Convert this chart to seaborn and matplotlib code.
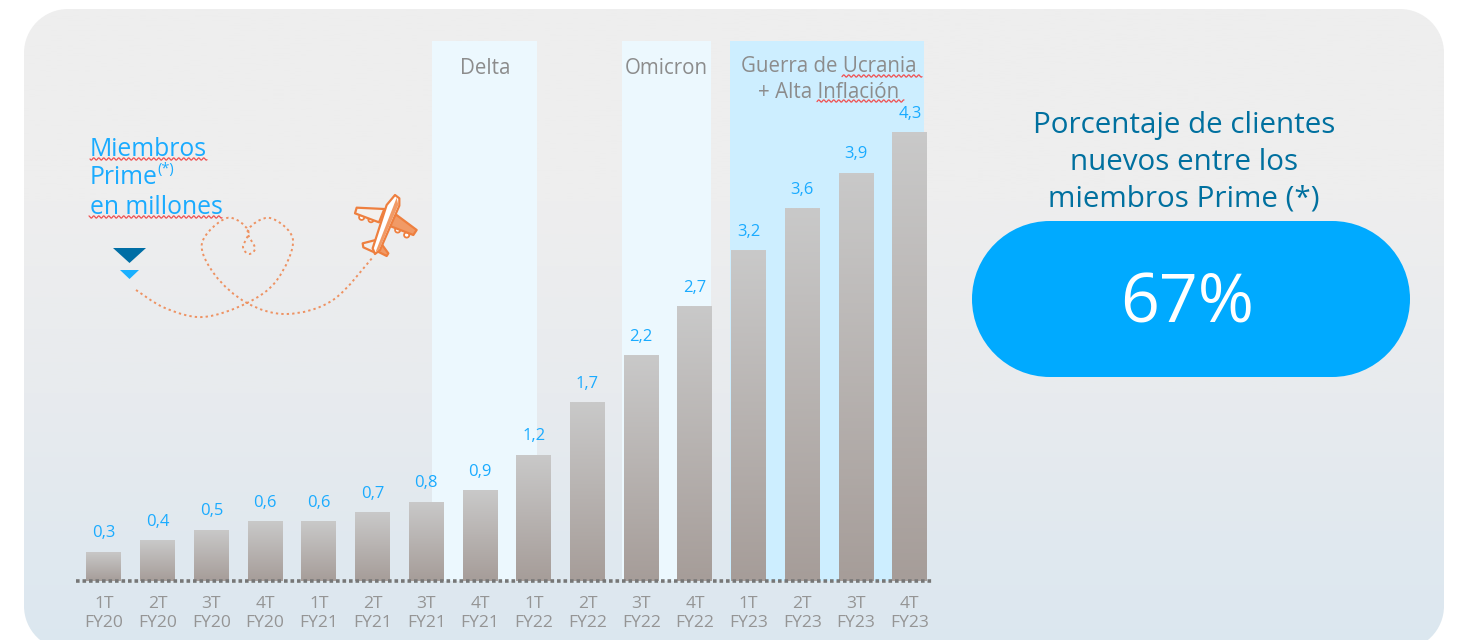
import numpy as np
import pandas as pd
import matplotlib
matplotlib.use("Agg")
import matplotlib.pyplot as plt
from matplotlib.patches import Polygon, Rectangle, PathPatch
from matplotlib.path import Path
from matplotlib.colors import LinearSegmentedColormap
import seaborn as sns

quarters = ["1T", "2T", "3T", "4T"] * 4
years = ["FY20"] * 4 + ["FY21"] * 4 + ["FY22"] * 4 + ["FY23"] * 4
members = [0.28, 0.39, 0.49, 0.57, 0.57, 0.66, 0.76, 0.87,
           1.21, 1.71, 2.16, 2.63, 3.17, 3.57, 3.91, 4.30]
member_labels = ["0,3", "0,4", "0,5", "0,6", "0,6", "0,7", "0,8", "0,9",
                 "1,2", "1,7", "2,2", "2,7", "3,2", "3,6", "3,9", "4,3"]

W, H = 1459, 640
FONT = "Open Sans"

sns.set_theme(style="white")
plt.rcParams["font.family"] = [FONT, "DejaVu Sans"]


def round_rect(x0, y0, x1, y1, r):
    # rounded box with true circular corners
    k = 0.5523 * r
    verts = [(x0 + r, y0), (x1 - r, y0),
             (x1 - r + k, y0), (x1, y0 + r - k), (x1, y0 + r), (x1, y1 - r),
             (x1, y1 - r + k), (x1 - r + k, y1), (x1 - r, y1), (x0 + r, y1),
             (x0 + r - k, y1), (x0, y1 - r + k), (x0, y1 - r), (x0, y0 + r),
             (x0, y0 + r - k), (x0 + r - k, y0), (x0 + r, y0), (x0 + r, y0)]
    codes = [Path.MOVETO, Path.LINETO,
             Path.CURVE4, Path.CURVE4, Path.CURVE4, Path.LINETO,
             Path.CURVE4, Path.CURVE4, Path.CURVE4, Path.LINETO,
             Path.CURVE4, Path.CURVE4, Path.CURVE4, Path.LINETO,
             Path.CURVE4, Path.CURVE4, Path.CURVE4, Path.CLOSEPOLY]
    return Path(verts, codes)


fig = plt.figure(figsize=(W / 100, H / 100), dpi=100, facecolor="white")

# background layer in pixel coordinates
bg = fig.add_axes([0, 0, 1, 1], zorder=0)
bg.axis("off")

panel = PathPatch(round_rect(24, 9, 1444, 650, 44), fc="none", ec="none",
                  transform=bg.transData)
bg.add_patch(panel)
panel_cmap = LinearSegmentedColormap.from_list(
    "panel", [(0, "#eeeeee"), (0.3, "#eeeeee"), (0.6, "#e8ebee"), (1, "#dbe7f0")])
im = bg.imshow(np.linspace(0, 1, 256)[:, None], extent=(24, 1444, 650, 9),
               aspect="auto", cmap=panel_cmap, zorder=1)
im.set_clip_path(panel)
bg.set_xlim(0, W)
bg.set_ylim(H, 0)

# period bands
for x0, x1, col in [(432, 537, "#ecf8fe"), (622, 711, "#ecf8fe"), (730, 924, "#cdeeff")]:
    bg.add_patch(Rectangle((x0, 41), x1 - x0, 540, fc=col, ec="none", zorder=2))

# bars
ax = fig.add_axes([76 / W, 1 - 581 / H, (934 - 76) / W, 540 / H], zorder=1)
ax.patch.set_alpha(0)
df = pd.DataFrame({
    "periodo": [f"{q}\n{y}" for q, y in zip(quarters, years)],
    "miembros": members,
})
sns.barplot(data=df, x="periodo", y="miembros", color="#c8c8c8", width=0.65,
            saturation=1, ax=ax)
ax.set_xlabel("")
ax.set_ylabel("")
ax.set_yticks([])
for side in ["top", "left", "right", "bottom"]:
    ax.spines[side].set_visible(False)
ax.tick_params(axis="x", length=0, pad=11, labelsize=12.6, labelcolor="#959595")
for lab in ax.get_xticklabels():
    lab.set_linespacing(1.25)

bar_cmap = LinearSegmentedColormap.from_list("bar", ["#c9c9c9", "#a69d99"])
container = ax.containers[0]
for bar in container:
    x0, y0 = bar.get_x(), bar.get_y()
    bw, bh = bar.get_width(), bar.get_height()
    bar.set_facecolor("none")
    bar.set_edgecolor("none")
    g = ax.imshow(np.linspace(0, 1, 128)[:, None], extent=(x0, x0 + bw, y0, y0 + bh),
                  aspect="auto", cmap=bar_cmap, zorder=2)
    g.set_clip_path(bar)
ax.set_xlim(-0.52, 15.45)
ax.set_ylim(0, 540 / 104.4)
ax.bar_label(container, labels=member_labels, padding=7.5, color="#1aabff", fontsize=12)
ax.axhline(0, color="#777777", lw=2.6, ls=(0, (1, 0.8)), zorder=5, clip_on=False)

# overlay layer for annotations
top = fig.add_axes([0, 0, 1, 1], zorder=2)
top.set_xlim(0, W)
top.set_ylim(H, 0)
top.axis("off")
top.patch.set_alpha(0)


def squiggle(x0, x1, y):
    xs = np.linspace(x0, x1, int((x1 - x0) * 3))
    top.plot(xs, y + 1.1 * np.sin(xs * 2 * np.pi / 5), color="#f05050", lw=0.9, zorder=6)


def smooth_path(pts):
    # catmull-rom through the points, as a bezier path
    pts = np.array(pts, dtype=float)
    verts = [pts[0]]
    codes = [Path.MOVETO]
    for i in range(len(pts) - 1):
        p0 = pts[max(i - 1, 0)]
        p1 = pts[i]
        p2 = pts[i + 1]
        p3 = pts[min(i + 2, len(pts) - 1)]
        verts += [p1 + (p2 - p0) / 6, p2 - (p3 - p1) / 6, p2]
        codes += [Path.CURVE4] * 3
    return Path(verts, codes)


def z(x, y):
    # plane crop coordinates to pixels
    return (345 + x / 3, 185 + y / 3)


# band titles
band_kw = dict(ha="center", va="center", fontsize=14.8, color="#8c8c8c")
top.text(485, 69, "Delta", **band_kw)
top.text(666, 69, "Omicron", **band_kw)
top.text(829, 66, "Guerra de Ucrania", **band_kw)
top.text(829, 92, "+ Alta Inflación", **band_kw)
squiggle(842, 922, 76)
squiggle(817, 904, 101)

# left caption
cap_kw = dict(ha="left", va="center", fontsize=17.8, color="#1aabff")
top.text(90, 149, "Miembros", **cap_kw)
top.text(90, 178, "Prime", **cap_kw)
top.text(157, 170, "(*)", ha="left", va="center", fontsize=10.5, color="#1aabff")
top.text(90, 208, "en millones", **cap_kw)
squiggle(90, 207, 159)
squiggle(89, 222, 217)

# arrows
top.add_patch(Polygon([(113, 248), (146, 248), (129.5, 263)], fc="#006ea5", ec="none"))
top.add_patch(Polygon([(120, 270), (139, 270), (129.5, 279)], fc="#1ab0ff", ec="none"))

# dotted flight path
flight = [(136, 290), (165, 308), (203, 317), (247, 303), (277, 280), (293, 240),
          (270, 218), (248, 230), (255, 248), (249, 254), (243, 247), (248, 230),
          (227, 218), (202, 243), (215, 275), (247, 303), (287, 314), (333, 300),
          (373, 257)]
top.add_patch(PathPatch(smooth_path(flight), fc="none", ec="#ee9262", lw=1.4,
                        ls=(0, (1.2, 1.6)), zorder=4))

# plane
orange = "#ee7f3f"
wing_l = [z(118, 72), z(35, 68), z(30, 85), z(102, 112)]
wing_r = [z(152, 88), z(215, 135), z(205, 150), z(132, 122)]
tail_l = [z(92, 165), z(53, 175), z(55, 187), z(88, 202)]
tail_r = [z(106, 172), z(130, 205), z(125, 213), z(95, 198)]
body = [z(150, 30), z(163, 40), z(163, 62), z(105, 195), z(90, 207), z(83, 190), z(125, 60)]
stripe = [z(155, 38), z(160, 60), z(102, 195), z(92, 200)]
for c in [z(50, 97), z(78, 104), z(158, 135), z(185, 150)]:
    top.add_patch(plt.Circle(c, 2.6, fc="white", ec=orange, lw=1.3, zorder=4))
edge_kw = dict(ec=orange, lw=1.6, joinstyle="round")
top.add_patch(Polygon(wing_l, fc="#f3f0ee", zorder=5, **edge_kw))
top.add_patch(Polygon(wing_r, fc="#f19a66", zorder=5, **edge_kw))
top.add_patch(Polygon(tail_l, fc="#f3f0ee", zorder=5, **edge_kw))
top.add_patch(Polygon(tail_r, fc="#f19a66", zorder=5, **edge_kw))
top.add_patch(Polygon(body, fc="white", zorder=6, **edge_kw))
top.add_patch(Polygon(stripe, fc="#f19a66", ec="none", zorder=7))

# right block
for y, txt in [(126, "Porcentaje de clientes"), (163, "nuevos entre los"), (199, "miembros Prime (*)")]:
    top.text(1184, y, txt, ha="center", va="center", fontsize=21.3, color="#00709f")
top.add_patch(PathPatch(round_rect(972, 221, 1410, 377, 78), fc="#00aaff", ec="none"))
top.text(1187, 305, "67%", ha="center", va="center", fontsize=49, color="white")

fig.savefig("out.png", dpi=100)
